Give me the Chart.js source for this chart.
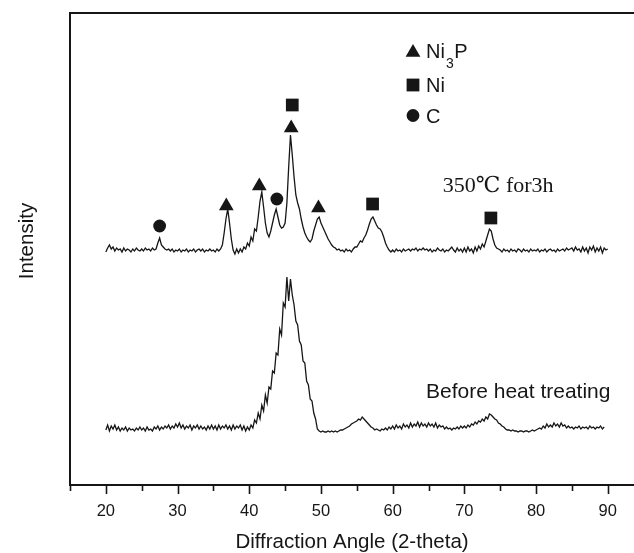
<!DOCTYPE html>
<html>
<head>
<meta charset="utf-8">
<script src="https://cdn.jsdelivr.net/npm/chart.js@4.4.0/dist/chart.umd.min.js"></script>
<style>
  html, body { margin: 0; padding: 0; background: #fff; }
</style>
</head>
<body>
<canvas id="xrdChart" width="634" height="553"></canvas>
<script>
// 2-theta positions of the scan (step 0.25)
const angles = [
  20,20.25,20.5,20.75,21,21.25,21.5,21.75,22,22.25,22.5,22.75,23,23.25,23.5,23.75,24,24.25,24.5,24.75,
  25,25.25,25.5,25.75,26,26.25,26.5,26.75,27,27.25,27.5,27.75,28,28.25,28.5,28.75,29,29.25,29.5,29.75,
  30,30.25,30.5,30.75,31,31.25,31.5,31.75,32,32.25,32.5,32.75,33,33.25,33.5,33.75,34,34.25,34.5,34.75,
  35,35.25,35.5,35.75,36,36.25,36.5,36.75,37,37.25,37.5,37.75,38,38.25,38.5,38.75,39,39.25,39.5,39.75,
  40,40.25,40.5,40.75,41,41.25,41.5,41.75,42,42.25,42.5,42.75,43,43.25,43.5,43.75,44,44.25,44.5,44.75,
  45,45.25,45.5,45.75,46,46.25,46.5,46.75,47,47.25,47.5,47.75,48,48.25,48.5,48.75,49,49.25,49.5,49.75,
  50,50.25,50.5,50.75,51,51.25,51.5,51.75,52,52.25,52.5,52.75,53,53.25,53.5,53.75,54,54.25,54.5,54.75,
  55,55.25,55.5,55.75,56,56.25,56.5,56.75,57,57.25,57.5,57.75,58,58.25,58.5,58.75,59,59.25,59.5,59.75,
  60,60.25,60.5,60.75,61,61.25,61.5,61.75,62,62.25,62.5,62.75,63,63.25,63.5,63.75,64,64.25,64.5,64.75,
  65,65.25,65.5,65.75,66,66.25,66.5,66.75,67,67.25,67.5,67.75,68,68.25,68.5,68.75,69,69.25,69.5,69.75,
  70,70.25,70.5,70.75,71,71.25,71.5,71.75,72,72.25,72.5,72.75,73,73.25,73.5,73.75,74,74.25,74.5,74.75,
  75,75.25,75.5,75.75,76,76.25,76.5,76.75,77,77.25,77.5,77.75,78,78.25,78.5,78.75,79,79.25,79.5,79.75,
  80,80.25,80.5,80.75,81,81.25,81.5,81.75,82,82.25,82.5,82.75,83,83.25,83.5,83.75,84,84.25,84.5,84.75,
  85,85.25,85.5,85.75,86,86.25,86.5,86.75,87,87.25,87.5,87.75,88,88.25,88.5,88.75,89,89.25,89.5,89.75,
  90
];

// 350C for 3h (upper pattern), arbitrary units
const annealed = [
  233,237,240,236,238,234,237,235,236,233,237,234,236,235,233,236,234,237,235,234,
  236,234,237,235,236,234,237,235,236,242,247,240,238,236,235,236,234,236,233,235,
  234,236,233,235,234,236,233,235,234,236,233,235,236,234,236,233,235,234,236,234,
  235,233,236,234,236,240,252,266,276,262,246,235,231,236,232,236,233,238,236,242,
  239,248,244,256,254,268,284,293,278,262,252,248,254,262,270,276,268,260,257,258,
  262,282,318,350,330,308,290,282,276,266,258,252,248,245,243,246,254,260,266,268,
  262,258,254,250,246,243,240,238,237,235,236,234,235,233,236,234,235,233,236,238,
  238,241,244,243,247,250,255,261,266,268,264,260,257,256,253,248,242,238,235,233,
  235,233,236,234,235,233,236,234,235,236,234,236,235,237,234,236,235,237,235,236,
  234,236,233,235,234,237,235,234,236,233,235,234,236,238,235,233,237,234,236,233,
  237,233,238,234,236,232,238,234,239,236,241,238,244,250,256,254,246,240,237,236,
  235,233,236,234,235,233,236,234,235,233,236,235,233,236,234,235,233,236,234,235,
  234,236,233,235,234,236,233,235,236,234,235,233,236,234,235,236,234,237,235,236,
  237,234,238,235,236,233,238,234,237,232,238,235,239,233,237,234,238,232,237,235,
  236
];

// before heat treating (lower pattern), ends at 89.5
const asPlated = [
  55,60,54,59,56,60,55,58,54,57,55,58,54,57,55,56,54,57,55,58,
  55,57,54,58,55,56,54,58,56,59,55,58,56,59,57,60,56,59,57,61,
  58,62,57,60,56,59,57,60,55,59,57,60,56,59,56,58,55,59,56,60,
  56,59,55,60,56,59,57,60,56,59,55,60,56,59,57,60,55,59,54,58,
  55,60,57,65,62,72,66,80,74,90,82,98,96,114,112,132,130,156,150,182,
  178,208,184,206,190,180,164,160,144,140,124,122,104,100,86,84,72,66,56,54,
  53,54,53,53,54,53,54,53,54,53,54,55,55,56,57,58,59,61,62,63,
  64,66,65,68,66,64,62,60,58,57,55,56,55,54,56,55,57,55,58,56,
  59,56,60,57,59,56,61,58,60,57,62,58,61,59,63,58,62,59,61,58,
  62,59,61,58,62,57,60,58,59,56,58,56,57,55,57,56,58,56,59,57,
  59,57,60,58,61,60,63,61,64,63,66,64,68,66,71,70,68,66,65,62,
  61,59,58,56,55,55,54,55,54,54,53,54,54,53,54,54,53,54,55,54,
  55,56,57,56,59,57,61,58,60,58,62,59,61,58,62,59,60,57,59,57,
  58,56,58,57,59,56,58,57,58,56,59,57,58,56,58,57,59,56,58
];

// phase markers above the peaks
const ni3pAngles = [36.8, 41.4, 45.85, 49.65];
const ni3pLevels = [279, 299, 357, 277];
const niAngles = [46.0, 57.2, 73.7];
const niLevels = [380, 281, 267];
const cAngles = [27.5, 43.85];
const cLevels = [259, 286];

const xTicks = [20, 30, 40, 50, 60, 70, 80, 90];
const xMinorTicks = [15, 25, 35, 45, 55, 65, 75, 85];

const ink = '#161616';
const sans = '"Liberation Sans", Arial, sans-serif';

function toPoints(xs, ys) {
  return ys.map((y, i) => ({ x: xs[i], y: y }));
}

function drawMarker(ctx, style, x, y) {
  ctx.beginPath();
  if (style === 'triangle') {
    const r = 8.5;
    ctx.moveTo(x, y - r);
    ctx.lineTo(x + r * 0.866, y + r / 2);
    ctx.lineTo(x - r * 0.866, y + r / 2);
    ctx.closePath();
  } else if (style === 'rect') {
    ctx.rect(x - 6.4, y - 6.4, 12.8, 12.8);
  } else {
    ctx.arc(x, y, 6.4, 0, Math.PI * 2);
  }
  ctx.fill();
}

const decorations = {
  id: 'decorations',
  afterDraw(chart) {
    const ctx = chart.ctx;
    const area = chart.chartArea;
    const xs = chart.scales.x;
    const ys = chart.scales.y;
    ctx.save();
    ctx.strokeStyle = ink;
    ctx.fillStyle = ink;

    // top frame line
    ctx.lineWidth = 2;
    ctx.beginPath();
    ctx.moveTo(area.left - 1, area.top);
    ctx.lineTo(area.right, area.top);
    ctx.stroke();

    // tick marks below the axis
    ctx.lineWidth = 1.6;
    xTicks.forEach(v => {
      const px = Math.round(xs.getPixelForValue(v)) + 0.5;
      ctx.beginPath();
      ctx.moveTo(px, area.bottom);
      ctx.lineTo(px, area.bottom + 9);
      ctx.stroke();
    });
    xMinorTicks.forEach(v => {
      const px = Math.round(xs.getPixelForValue(v)) + 0.5;
      ctx.beginPath();
      ctx.moveTo(px, area.bottom);
      ctx.lineTo(px, area.bottom + 6);
      ctx.stroke();
    });

    // axis titles
    ctx.font = '20.5px ' + sans;
    ctx.textAlign = 'center';
    ctx.textBaseline = 'alphabetic';
    ctx.fillText('Diffraction Angle (2-theta)', (area.left + area.right) / 2, 548);
    ctx.save();
    ctx.translate(33, 241);
    ctx.rotate(-Math.PI / 2);
    ctx.fillText('Intensity', 0, 0);
    ctx.restore();

    // curve labels
    ctx.textAlign = 'left';
    ctx.font = '22px "Liberation Serif", "DejaVu Serif", serif';
    ctx.fillText('350℃ for3h', xs.getPixelForValue(67.0), ys.getPixelForValue(293));
    ctx.font = '21px ' + sans;
    ctx.fillText('Before heat treating', xs.getPixelForValue(64.65), ys.getPixelForValue(87));

    // legend
    drawMarker(ctx, 'triangle', 413, 52.5);
    drawMarker(ctx, 'rect', 413, 85);
    drawMarker(ctx, 'circle', 413, 115.5);
    ctx.font = '20px ' + sans;
    ctx.fillText('Ni', 426, 58);
    let wx = 426 + ctx.measureText('Ni').width;
    ctx.font = '14px ' + sans;
    ctx.fillText('3', wx + 1, 68);
    wx += ctx.measureText('3').width + 1.5;
    ctx.font = '20px ' + sans;
    ctx.fillText('P', wx, 58);
    ctx.fillText('Ni', 426, 92);
    ctx.fillText('C', 426, 123);
    ctx.restore();
  }
};

new Chart(document.getElementById('xrdChart'), {
  type: 'line',
  data: {
    datasets: [
      {
        label: '350℃ for3h',
        data: toPoints(angles, annealed),
        borderColor: ink,
        borderWidth: 1.3,
        pointRadius: 0,
        tension: 0
      },
      {
        label: 'Before heat treating',
        data: toPoints(angles, asPlated),
        borderColor: ink,
        borderWidth: 1.3,
        pointRadius: 0,
        tension: 0
      },
      {
        label: 'Ni3P',
        data: toPoints(ni3pAngles, ni3pLevels),
        showLine: false,
        pointStyle: 'triangle',
        pointRadius: 8.5,
        pointBackgroundColor: ink,
        pointBorderWidth: 0
      },
      {
        label: 'Ni',
        data: toPoints(niAngles, niLevels),
        showLine: false,
        pointStyle: 'rect',
        pointRadius: 9,
        pointBackgroundColor: ink,
        pointBorderWidth: 0
      },
      {
        label: 'C',
        data: toPoints(cAngles, cLevels),
        showLine: false,
        pointStyle: 'circle',
        pointRadius: 6.4,
        pointBackgroundColor: ink,
        pointBorderWidth: 0
      }
    ]
  },
  options: {
    responsive: false,
    devicePixelRatio: 1,
    animation: false,
    layout: { autoPadding: false, padding: { top: 13, left: 0, right: 0, bottom: 0 } },
    plugins: {
      legend: { display: false },
      tooltip: { enabled: false }
    },
    scales: {
      x: {
        type: 'linear',
        min: 15,
        max: 93.66,
        afterFit: scale => { scale.height = 68; },
        afterBuildTicks: scale => { scale.ticks = xTicks.map(v => ({ value: v })); },
        grid: { display: false, drawTicks: false },
        border: { display: true, color: ink, width: 2 },
        ticks: {
          autoSkip: false,
          maxRotation: 0,
          color: ink,
          padding: 17,
          font: { family: sans, size: 16.5 }
        }
      },
      y: {
        min: 0,
        max: 472,
        afterFit: scale => { scale.width = 70; },
        grid: { display: false, drawTicks: false },
        border: { display: true, color: ink, width: 2 },
        ticks: { display: false }
      }
    }
  },
  plugins: [decorations]
});
</script>
</body>
</html>
